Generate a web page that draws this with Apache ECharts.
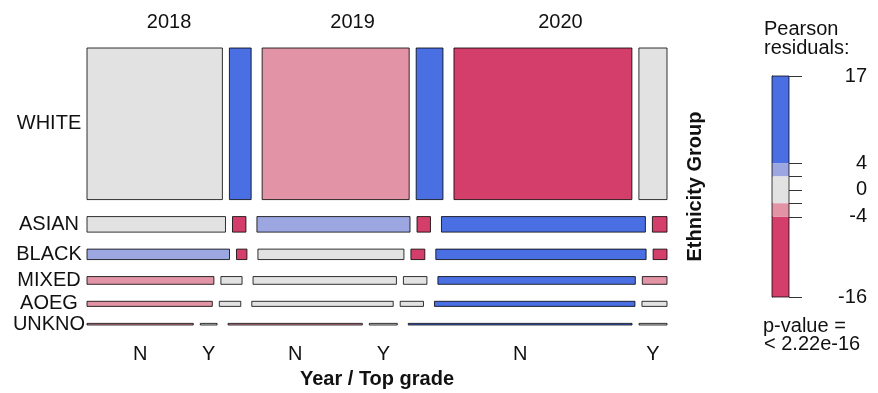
<!DOCTYPE html>
<html><head><meta charset="utf-8">
<script src="https://cdn.jsdelivr.net/npm/echarts@6/dist/echarts.min.js"></script>
<style>html,body{margin:0;padding:0;background:#fff}#c{width:878px;height:393px}</style>
</head><body><div id="c"></div>
<script>
// ---------------- data ----------------
const ethnicity = ['WHITE', 'ASIAN', 'BLACK', 'MIXED', 'AOEG', 'UNKNO'];
const years = ['2018', '2019', '2020'];
const grades = ['N', 'Y'];
// counts per ethnicity, order: 2018 N, 2018 Y, 2019 N, 2019 Y, 2020 N, 2020 Y
const countWHITE = [2260, 363, 2454, 447, 2970, 469];
const countASIAN = [237, 23, 262, 23, 349, 25];
const countBLACK = [164, 12, 168, 16, 242, 16];
const countMIXED = [108, 18, 122, 20, 168, 21];
const countAOEG  = [70, 12, 79, 13, 112, 14];
const countUNKNO = [19, 3, 24, 5, 40, 5];
// Pearson residuals (estimated from shading), same order
const residWHITE = [1.0, 9.0, -3.0, 8.0, -9.0, 1.5];
const residASIAN = [0.5, -6.0, 3.0, -5.0, 10.0, -5.0];
const residBLACK = [3.0, -5.0, 1.0, -5.0, 9.0, -5.0];
const residMIXED = [-3.0, 1.0, 0.5, 1.0, 6.0, -2.5];
const residAOEG  = [-3.0, 0.5, 0.5, 0.5, 6.0, -1.0];
const residUNKNO = [-3.0, -0.5, -3.0, -0.5, 5.0, -1.0];
// legend
const legendBreaks = [17, 4, 2, -2, -4, -16];
const legendTickValues = [17, 4, 2, 0, -2, -4, -16];
const legendLabelValues = [17, 4, 0, -4, -16];
const pValueText = ['p-value =', '< 2.22e-16'];

// ---------------- layout / style ----------------
const counts = [countWHITE, countASIAN, countBLACK, countMIXED, countAOEG, countUNKNO];
const resids = [residWHITE, residASIAN, residBLACK, residMIXED, residAOEG, residUNKNO];
const FONT = "'Liberation Sans', Arial, sans-serif";
const plot = {left: 87, top: 48, width: 580, height: 277};
const gapRow = 17 / plot.height;   // between ethnicity rows
const gapYear = 11 / plot.width;   // between years
const gapGrade = 7 / plot.width;   // between N / Y

function colorFor(r) {
  if (r > 4) return '#4a6fe3';
  if (r > 2) return '#9ca6e1';
  if (r >= -2) return '#e2e2e2';
  if (r >= -4) return '#e294a6';
  return '#d33f6a';
}

const total = counts.reduce((s, row) => s + row.reduce((a, b) => a + b, 0), 0);
const usableY = 1 - (ethnicity.length - 1) * gapRow;
const usableX = 1 - (years.length - 1) * gapYear - years.length * (grades.length - 1) * gapGrade;

const cells = [];
const labels = [];
let y = 0;
counts.forEach((row, i) => {
  const rowTotal = row.reduce((a, b) => a + b, 0);
  const h = rowTotal / total * usableY;
  let x = 0;
  years.forEach((yr, j) => {
    const yearStart = x;
    grades.forEach((g, k) => {
      const idx = j * grades.length + k;
      const w = row[idx] / rowTotal * usableX;
      cells.push([x, y, x + w, y + h, resids[i][idx]]);
      if (i === counts.length - 1) labels.push({value: [x + w / 2, y + h], text: g, kind: 'bottom'});
      x += w;
      if (k < grades.length - 1) x += gapGrade;
    });
    if (i === 0) labels.push({value: [(yearStart + x) / 2, y], text: yr, kind: 'top'});
    if (j < years.length - 1) x += gapYear;
  });
  labels.push({value: [0, y + h / 2], text: ethnicity[i], kind: 'left'});
  y += h + gapRow;
});

const legendBands = [];
for (let i = 0; i < legendBreaks.length - 1; i++) {
  const hi = legendBreaks[i], lo = legendBreaks[i + 1];
  legendBands.push([lo, hi, (lo + hi) / 2]);
}

const chart = echarts.init(document.getElementById('c'), null, {renderer: 'canvas'});
chart.setOption({
  backgroundColor: '#fff',
  animation: false,
  textStyle: {fontFamily: FONT},
  grid: [
    {left: plot.left, top: plot.top, width: plot.width, height: plot.height, containLabel: false, outerBoundsMode: 'none'},
    {left: 772, top: 76, width: 17, height: 221, containLabel: false, outerBoundsMode: 'none'}
  ],
  xAxis: [
    {type: 'value', gridIndex: 0, min: 0, max: 1, show: false},
    {type: 'value', gridIndex: 1, min: 0, max: 1, show: false}
  ],
  yAxis: [
    {type: 'value', gridIndex: 0, min: 0, max: 1, inverse: true, show: false},
    {type: 'value', gridIndex: 1, min: -16, max: 17, position: 'right',
     axisLine: {show: true, lineStyle: {color: '#333', width: 1}},
     axisTick: {show: false},
     axisLabel: {show: true, customValues: legendLabelValues, align: 'right', margin: 78, fontSize: 20, color: '#111', fontFamily: FONT},
     splitLine: {show: false}}
  ],
  series: [
    {
      type: 'custom', xAxisIndex: 0, yAxisIndex: 0, clip: false,
      data: cells,
      renderItem: function (params, api) {
        const p0 = api.coord([api.value(0), api.value(1)]);
        const p1 = api.coord([api.value(2), api.value(3)]);
        return {type: 'rect', shape: {x: p0[0], y: p0[1], width: p1[0] - p0[0], height: p1[1] - p0[1]},
          style: {fill: colorFor(api.value(4)), stroke: 'rgba(0,0,0,0.8)', lineWidth: 1}};
      }
    },
    {
      type: 'custom', xAxisIndex: 0, yAxisIndex: 0, clip: false,
      data: labels.map(l => l.value),
      renderItem: function (params, api) {
        const l = labels[params.dataIndex];
        const p = api.coord([api.value(0), api.value(1)]);
        let px = p[0], py = p[1];
        if (l.kind === 'top') py -= 25.5;
        if (l.kind === 'bottom') py += 29;
        if (l.kind === 'left') px -= 38;
        return {type: 'text', x: px, y: py,
          style: {text: l.text, fill: '#111', font: '20px ' + FONT, textAlign: 'center', textVerticalAlign: 'middle'}};
      }
    },
    {
      type: 'custom', xAxisIndex: 1, yAxisIndex: 1, clip: false,
      data: legendBands,
      renderItem: function (params, api) {
        const p0 = api.coord([0, api.value(1)]);
        const p1 = api.coord([1, api.value(0)]);
        return {type: 'rect', shape: {x: p0[0], y: p0[1], width: p1[0] - p0[0], height: p1[1] - p0[1]},
          style: {fill: colorFor(api.value(2))}};
      }
    },
    {
      type: 'custom', xAxisIndex: 1, yAxisIndex: 1, clip: false,
      data: [[legendBreaks[legendBreaks.length - 1], legendBreaks[0]]],
      renderItem: function (params, api) {
        const p0 = api.coord([0, api.value(1)]);
        const p1 = api.coord([1, api.value(0)]);
        return {type: 'rect', shape: {x: p0[0], y: p0[1], width: p1[0] - p0[0], height: p1[1] - p0[1]},
          style: {fill: 'none', stroke: 'rgba(0,0,0,0.75)', lineWidth: 1}};
      }
    },
    {
      type: 'custom', xAxisIndex: 1, yAxisIndex: 1, clip: false,
      data: legendTickValues.map(v => [1, v]),
      renderItem: function (params, api) {
        const p = api.coord([api.value(0), api.value(1)]);
        const yy = Math.round(p[1]) + 0.5;
        return {type: 'line', shape: {x1: p[0], y1: yy, x2: p[0] + 13, y2: yy},
          style: {stroke: '#333', lineWidth: 1}};
      }
    }
  ],
  graphic: [
    {type: 'text', x: plot.left + plot.width / 2, y: 379,
     style: {text: 'Year / Top grade', font: 'bold 20px ' + FONT, fill: '#111', textAlign: 'center', textVerticalAlign: 'middle'}},
    {type: 'text', x: 695, y: plot.top + plot.height / 2, rotation: Math.PI / 2,
     style: {text: 'Ethnicity Group', font: 'bold 20px ' + FONT, fill: '#111', textAlign: 'center', textVerticalAlign: 'middle'}},
    {type: 'text', x: 764, y: 29.5,
     style: {text: 'Pearson', font: '20px ' + FONT, fill: '#111', textAlign: 'left', textVerticalAlign: 'middle'}},
    {type: 'text', x: 764, y: 48,
     style: {text: 'residuals:', font: '20px ' + FONT, fill: '#111', textAlign: 'left', textVerticalAlign: 'middle'}},
    {type: 'text', x: 763, y: 326,
     style: {text: pValueText[0], font: '20px ' + FONT, fill: '#111', textAlign: 'left', textVerticalAlign: 'middle'}},
    {type: 'text', x: 764, y: 344,
     style: {text: pValueText[1], font: '20px ' + FONT, fill: '#111', textAlign: 'left', textVerticalAlign: 'middle'}}
  ]
});
</script>
</body></html>
